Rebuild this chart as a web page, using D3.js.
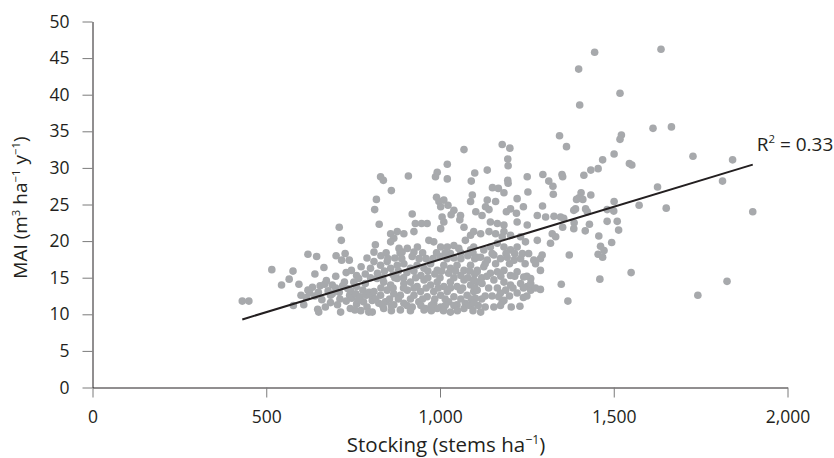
<!DOCTYPE html>
<html>
<head>
<meta charset="utf-8">
<script src="https://cdn.jsdelivr.net/npm/d3@7/dist/d3.min.js"></script>
<style>
  html, body { margin: 0; padding: 0; background: #ffffff; }
  svg { display: block; font-family: "Open Sans", "Noto Sans", sans-serif; }
</style>
</head>
<body>
<svg id="chart" width="834" height="458"></svg>
<script>
// Stand records: [stocking (stems/ha), MAI (m3/ha/yr)]
const sparseLowStocking = [
  [431,11.8],[450,11.8],[516,16.1],[544,14.0],[566,14.8],[577,15.9],[594,14.1],[578,11.2],
  [620,18.2],[645,17.9],[640,15.5],[666,16.4],[600,12.6],[615,12.3],[625,12.9],[640,12.5],
  [633,13.7],[655,13.9],[668,14.1],[690,14.0],[700,13.6],[678,13.2],[673,14.6],[608,11.3],
  [648,10.7],[651,10.3],[685,11.6],[685,12.6],[710,21.9],[716,20.1],[701,18.0],[717,17.4],
  [727,18.3],[739,17.4],[712,12.1],[714,10.3],[720,13.9],[725,14.4],[740,12.6],[743,13.2],
  [746,12.2],[752,14.4],[760,15.3],[766,14.9],[773,16.5],[790,17.7],[758,12.8],[770,12.4],
  [778,13.3],[788,12.6],[796,13.0],[780,11.7],[790,11.0],[760,11.4],[772,10.5],[795,10.3],
  [700,15.2],[730,15.7],[745,16.0],[735,13.5],[660,12.0],[705,11.3],[742,10.8],[620,13.3],
  [690,12.8],[710,13.0],[760,13.8],[785,14.2],[800,15.0],[765,12.0],[730,11.8],[755,10.6],
  [805,12.5],[800,16.3],[785,15.5],[650,13.0],[670,11.0]
];

const highGrowthStands = [
  [829,28.8],[837,28.3],[909,28.9],[860,26.9],[817,25.7],[812,24.3],[825,22.3],[920,23.7],
  [929,22.4],[947,22.4],[963,22.4],[1069,32.5],[1021,30.5],[992,29.4],[987,28.8],[1021,28.5],
  [990,26.0],[997,25.4],[1011,25.6],[1023,24.9],[1002,24.7],[1040,24.2],[1032,23.6],[1059,23.5],
  [1006,23.3],[1100,29.3],[1090,28.2],[1093,26.3],[1088,25.4],[1136,29.7],[1151,27.3],[1168,27.2],
  [1184,26.6],[1195,28.3],[1196,27.9],[1179,33.2],[1201,32.7],[1195,31.2],[1196,30.3],[1136,25.6],
  [1131,24.7],[1141,24.3],[1160,25.4],[1222,25.8],[1240,24.7],[1251,28.8],[1253,26.7],[1296,29.1],
  [1313,28.2],[1325,27.5],[1326,26.4],[1295,24.8],[1103,24.0],[1121,23.5],[1191,24.0],[1203,24.4],
  [1220,23.8],[1280,23.5],[1304,23.3],[1328,23.4],[1347,23.3],[1356,23.1],[1057,22.9],[1011,22.6]
];

const midGrowthStands = [
  [858,21.0],[877,21.3],[896,21.0],[925,21.3],[1002,21.7],[1069,21.9],[1088,20.8],[1073,20.1],
  [867,20.4],[814,19.5],[810,18.5],[858,19.9],[882,19.0],[891,18.5],[906,19.0],[925,18.5],
  [935,19.2],[968,20.1],[982,19.9],[1002,19.2],[1021,19.2],[1040,19.4],[1054,19.0],[1030,18.3],
  [1097,19.2],[1107,17.8],[1145,22.6],[1165,22.4],[1184,22.2],[1222,22.6],[1251,22.2],[1097,21.3],
  [1117,21.0],[1141,21.3],[1160,21.0],[1184,21.3],[1179,20.6],[1203,20.8],[1232,20.6],[1246,19.9],
  [1280,20.1],[1323,21.0],[1333,20.6],[1318,19.7]
];

const coreStands = [
  [830,18.0],[870,17.7],[920,17.9],[960,17.6],[1000,17.9],[1040,17.7],[1080,18.0],
  [810,17.2],[829,16.7],[848,17.2],[858,16.3],[877,16.7],[896,16.9],[915,16.3],[934,16.7],
  [954,16.3],[973,16.9],[992,16.0],[1011,16.7],[1030,16.3],[1049,16.7],[1069,16.0],[1088,16.7],[1107,16.0],
  [820,15.6],[865,15.4],[905,15.7],[945,15.3],[985,15.5],[1025,15.6],[1060,15.3],[1100,15.5],
  [819,14.9],[838,14.4],[858,14.0],[877,14.9],[896,14.2],[915,14.4],[934,13.8],[954,14.7],
  [973,14.0],[992,14.4],[1011,13.8],[1030,14.4],[1049,13.8],[1069,14.7],[1088,14.0],[1107,14.4],
  [810,13.1],[829,12.6],[848,13.3],[867,12.8],[886,12.6],[906,13.3],[925,12.6],[944,13.1],
  [963,12.4],[982,13.1],[1002,12.6],[1021,13.1],[1040,12.4],[1059,13.3],[1078,12.6],[1097,13.1],
  [805,11.9],[824,11.5],[843,11.7],[867,11.3],[896,11.5],[920,11.0],[939,11.7],[958,10.8],
  [982,11.5],[1002,11.0],[1025,11.7],[1049,11.3],[1073,11.5],[1097,11.7],
  [805,10.3],[838,10.8],[886,10.6],[954,10.6],[992,10.8],[1030,10.3],[1069,10.8],[1117,10.3],
  [845,18.4],[885,18.4],[950,18.4],[990,18.4],[1015,18.4],[1060,18.4],[1095,18.4],
  [850,17.6],[890,17.6],[940,17.6],[980,17.6],[1020,17.6],[1060,17.6],[1100,17.6],
  [840,15.9],[880,15.9],[925,15.9],[965,15.9],[1005,15.9],[1045,15.9],[1085,15.9],
  [835,15.0],[870,15.0],[895,15.0],[930,15.0],[965,15.0],[1000,15.0],[1040,15.0],[1080,15.0],[1120,15.0],
  [830,13.6],[865,13.6],[895,13.6],[925,13.6],[960,13.6],[995,13.6],[1030,13.6],[1065,13.6],[1100,13.6],
  [815,12.1],[855,12.1],[880,12.1],[915,12.1],[950,12.1],[985,12.1],[1015,12.1],[1060,12.1],[1090,12.1],[1120,12.1],
  [835,11.2],[860,11.2],[905,11.2],[945,11.2],[975,11.2],[1015,11.2],[1040,11.2],[1085,11.2],[1110,11.2],
  [860,10.5],[915,10.5],[975,10.5],[1010,10.5],[1050,10.5],[1095,10.5]
];

const upperStockingCore = [
  [1088,18.8],[1126,18.8],[1145,19.2],[1165,19.7],[1184,19.2],[1203,18.8],[1222,19.2],[1237,18.3],
  [1117,17.8],[1136,17.4],[1155,18.1],[1174,17.6],[1193,17.8],[1213,17.4],[1232,17.6],[1270,17.4],[1289,17.6],
  [1107,15.8],[1126,16.5],[1145,15.6],[1165,15.8],[1184,16.0],[1203,15.3],[1222,15.8],[1241,15.1],
  [1261,14.9],[1289,16.0],[1097,14.7],[1121,14.2],[1155,14.7],[1184,14.4],[1203,14.0],[1232,14.2],
  [1251,13.8],[1107,13.3],[1102,12.2],[1174,12.9],[1189,13.3],[1222,12.9],[1261,13.3],[1289,13.4],
  [1097,11.5],[1184,11.9],[1240,12.3],[1179,11.7],[1230,11.1],[1294,18.1],[1261,14.2],[1169,12.4],[1174,11.2],
  [1150,18.3],[1190,18.3],[1215,18.3],[1255,18.3],
  [1130,16.9],[1160,16.9],[1200,16.9],[1245,16.9],[1275,16.9],
  [1135,15.2],[1175,15.2],[1215,15.2],[1250,15.2],
  [1140,13.6],[1165,13.6],[1210,13.6],[1240,13.6],[1275,13.6],
  [1130,12.5],[1150,12.5],[1200,12.5],[1250,12.5],
  [1130,11.0],[1155,11.0],[1205,11.0]
];

const highStocking = [
  [1445,45.8],[1636,46.2],[1399,43.5],[1518,40.2],[1402,38.6],[1613,35.4],[1666,35.6],[1522,34.5],
  [1518,33.9],[1364,32.9],[1344,34.4],[1501,31.9],[1468,31.1],[1545,30.6],[1552,30.4],[1728,31.6],
  [1842,31.1],[1351,29.1],[1353,28.8],[1414,29.0],[1434,29.7],[1455,29.9],[1813,28.2],[1626,27.4],
  [1434,26.3],[1406,26.6],[1400,25.9],[1393,25.7],[1411,25.7],[1501,25.4],[1573,24.9],[1651,24.5],
  [1900,24.0],[1390,24.4],[1385,24.2],[1419,24.4],[1424,24.0],[1481,24.3],[1500,24.1],[1353,21.9],
  [1386,22.5],[1385,21.7],[1418,21.4],[1430,22.3],[1481,22.7],[1510,22.7],[1514,21.5],[1457,20.7],
  [1494,19.8],[1462,19.3],[1455,18.2],[1468,17.8],[1472,18.7],[1372,18.1],[1550,15.7],[1460,14.8],
  [1349,14.1],[1368,11.8],[1826,14.5],[1742,12.6]
];

const xTicks = [0, 500, 1000, 1500, 2000];
const yTicks = [0, 5, 10, 15, 20, 25, 30, 35, 40, 45, 50];

// Linear fit of MAI on stocking
const fitSlope = 0.0144;
const fitIntercept = 3.09;
const fitR2 = "0.33";

const stands = [].concat(sparseLowStocking, highGrowthStands, midGrowthStands,
                         coreStands, upperStockingCore, highStocking);

const svg = d3.select("#chart");
const ink = "#231f20";
const dotFill = "#a7a9ac";
const tickFont = 17.5;
const xTitleFont = 20.5;
const yTitleFont = 19;
const labelFont = 19;

const x = d3.scaleLinear().domain([0, 2000]).range([92.5, 787.5]);
const y = d3.scaleLinear().domain([0, 50]).range([387.5, 21.5]);

// Axes
const xAxis = d3.axisBottom(x).tickValues(xTicks).tickFormat(d3.format(","))
  .tickSize(10).tickSizeOuter(0).tickPadding(13);
const yAxis = d3.axisLeft(y).tickValues(yTicks).tickFormat(d3.format("d"))
  .tickSize(10).tickSizeOuter(0).tickPadding(13);

const gx = svg.append("g").attr("transform", `translate(0,${y(0)})`).call(xAxis);
const gy = svg.append("g").attr("transform", `translate(${x(0)},0)`).call(yAxis);

[gx, gy].forEach(g => {
  g.select(".domain").attr("stroke", ink).attr("stroke-width", 1);
  g.selectAll(".tick line").attr("stroke", "#7b7b7b").attr("stroke-width", 1);
  g.selectAll(".tick text").attr("fill", ink).attr("font-size", tickFont)
    .attr("font-family", "\"Open Sans\", sans-serif");
});

// Points
svg.append("g").selectAll("circle").data(stands).join("circle")
  .attr("cx", d => x(d[0]))
  .attr("cy", d => y(d[1]))
  .attr("r", 3.8)
  .attr("fill", dotFill);

// Trend line across the stocking range
const [sMin, sMax] = d3.extent(stands, d => d[0]);
const fitLine = [sMin, sMax].map(s => [s, fitIntercept + fitSlope * s]);
svg.append("path")
  .datum(fitLine)
  .attr("fill", "none")
  .attr("stroke", ink)
  .attr("stroke-width", 2)
  .attr("d", d3.line().x(d => x(d[0])).y(d => y(d[1])));

// R² label near the end of the trend line
const endPt = fitLine[1];
const r2 = svg.append("text")
  .attr("x", x(endPt[0]) + 4)
  .attr("y", y(endPt[1]) - 14)
  .attr("fill", ink)
  .attr("font-size", labelFont);
r2.append("tspan").text("R");
r2.append("tspan").attr("font-size", labelFont * 0.6).attr("dy", -8).text("2");
r2.append("tspan").attr("dy", 8).text(" = " + fitR2);

// Axis titles
const xt = svg.append("text")
  .attr("x", (x(0) + x(2000)) / 2 + 6)
  .attr("y", 452)
  .attr("text-anchor", "middle")
  .attr("fill", ink)
  .attr("font-size", xTitleFont);
xt.append("tspan").text("Stocking (stems ha");
xt.append("tspan").attr("font-size", xTitleFont * 0.6).attr("dy", -8).text("\u22121");
xt.append("tspan").attr("dy", 8).text(")");

const yt = svg.append("text")
  .attr("transform", `translate(27,${(y(0) + y(50)) / 2 + 3}) rotate(-90)`)
  .attr("text-anchor", "middle")
  .attr("fill", ink)
  .attr("font-size", yTitleFont);
yt.append("tspan").text("MAI (m");
yt.append("tspan").attr("font-size", yTitleFont * 0.6).attr("dy", -7.5).text("3");
yt.append("tspan").attr("dy", 7.5).text(" ha");
yt.append("tspan").attr("font-size", yTitleFont * 0.6).attr("dy", -7.5).text("\u22121");
yt.append("tspan").attr("dy", 7.5).text(" y");
yt.append("tspan").attr("font-size", yTitleFont * 0.6).attr("dy", -7.5).text("\u22121");
yt.append("tspan").attr("dy", 7.5).text(")");
</script>
</body>
</html>
